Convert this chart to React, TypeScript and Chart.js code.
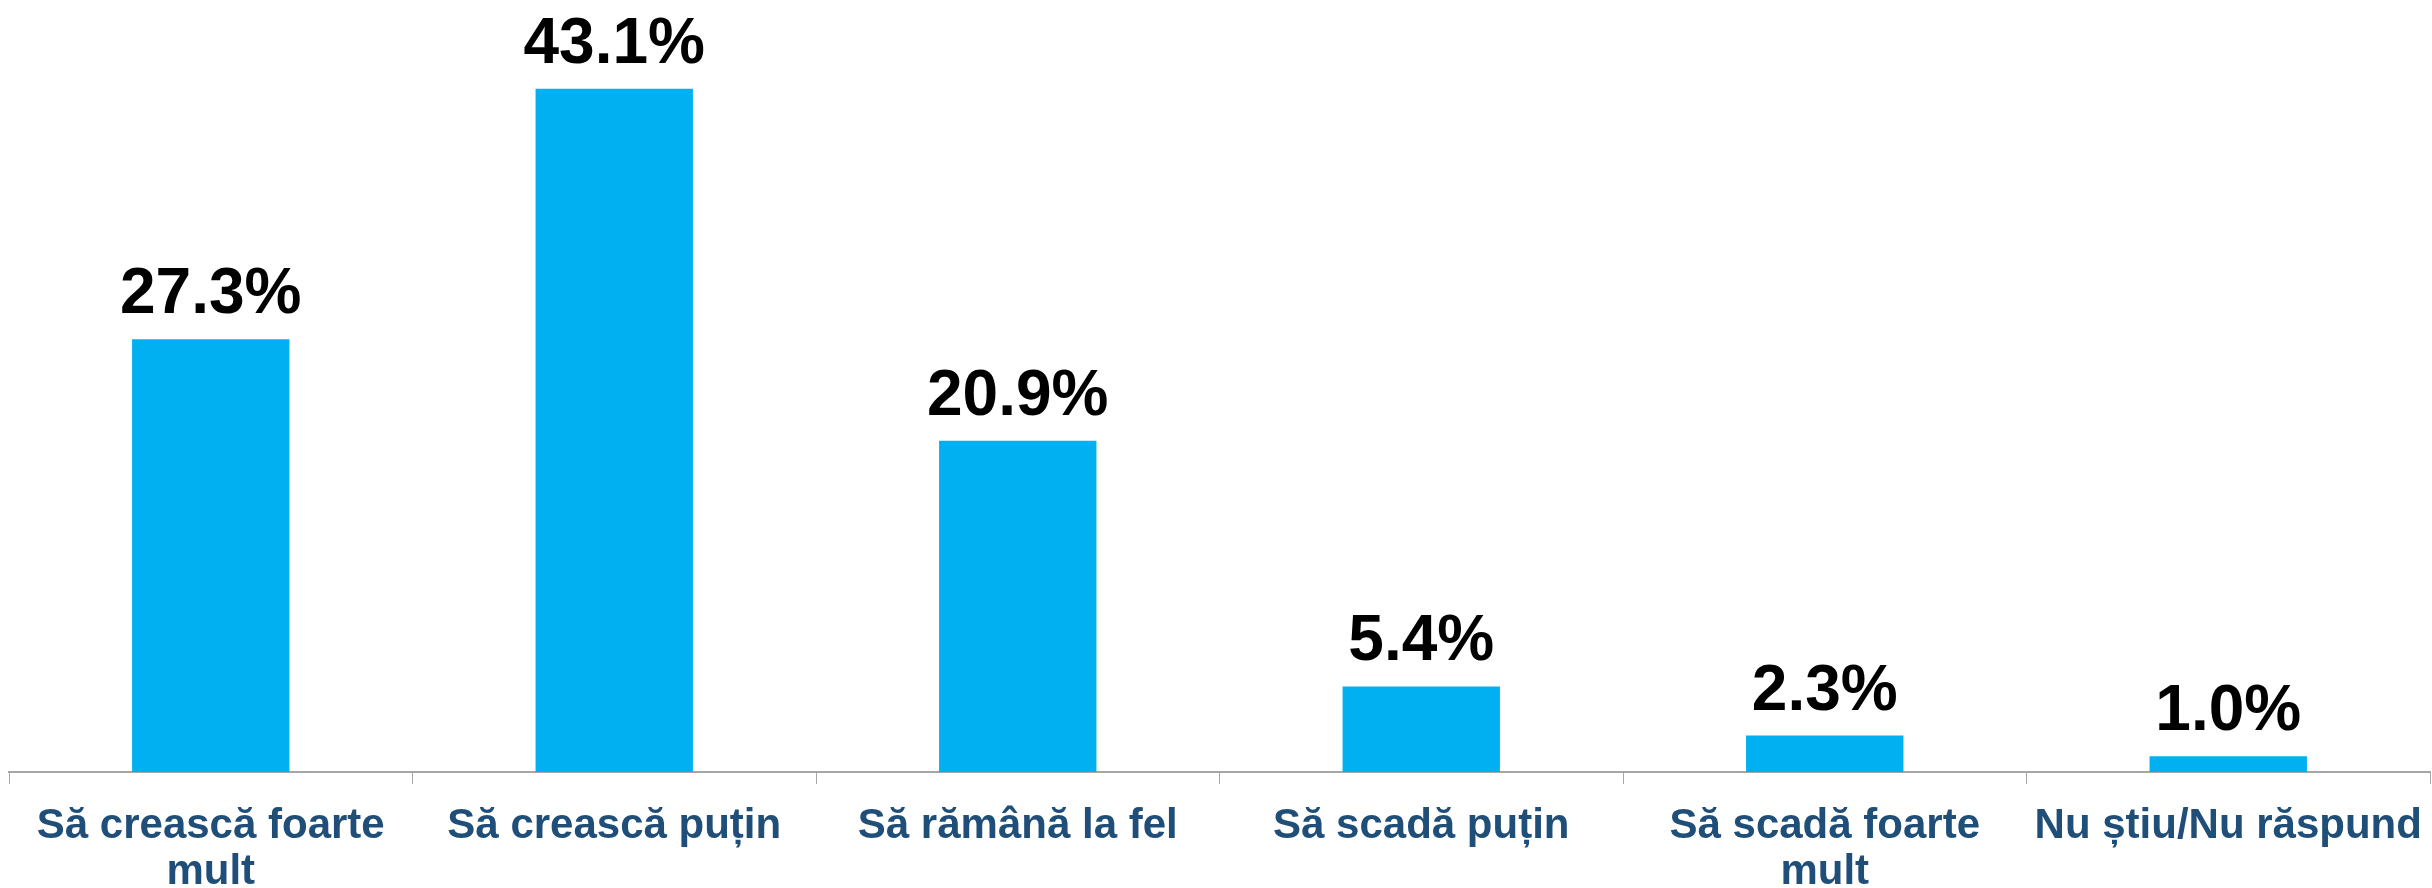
import React, { useEffect, useRef } from "react";
import { Chart, registerables } from "chart.js";

Chart.register(...registerables);

const categories: (string | string[])[] = [
  ["Să crească foarte", "mult"],
  "Să crească puțin",
  "Să rămână la fel",
  "Să scadă puțin",
  ["Să scadă foarte", "mult"],
  "Nu știu/Nu răspund",
];
const values: number[] = [27.3, 43.1, 20.9, 5.4, 2.3, 1.0];
const valueLabels: string[] = ["27.3%", "43.1%", "20.9%", "5.4%", "2.3%", "1.0%"];

const FONT = "'Liberation Sans', Arial, sans-serif";

const valueLabelPlugin = {
  id: "valueLabels",
  afterDatasetsDraw(chart: any) {
    const ctx = chart.ctx;
    const meta = chart.getDatasetMeta(0);
    ctx.save();
    ctx.font = `bold 64px ${FONT}`;
    ctx.fillStyle = "#000000";
    ctx.textAlign = "center";
    ctx.textBaseline = "alphabetic";
    meta.data.forEach((bar: any, i: number) => {
      ctx.fillText(valueLabels[i], bar.x, bar.y - 26);
    });
    ctx.restore();
  },
};

export default function App() {
  const ref = useRef<HTMLCanvasElement>(null);
  useEffect(() => {
    if (!ref.current) return;
    const chart = new Chart(ref.current, {
      type: "bar",
      data: {
        labels: categories,
        datasets: [
          {
            data: values,
            backgroundColor: "#00B0F0",
            borderWidth: 0,
            categoryPercentage: 1,
            barPercentage: 0.39,
          },
        ],
      },
      options: {
        animation: false,
        responsive: false,
        maintainAspectRatio: false,
        layout: { padding: { left: 9, right: 2, top: 0, bottom: 0 } },
        plugins: {
          legend: { display: false },
          tooltip: { enabled: false },
        },
        scales: {
          x: {
            grid: {
              display: true,
              drawOnChartArea: false,
              drawTicks: true,
              tickLength: 12,
              color: "#A6A6A6",
              lineWidth: 1,
              offset: true,
            },
            border: { display: true, color: "#A6A6A6", width: 2 },
            ticks: {
              color: "#1F4E79",
              font: { family: FONT, size: 42, weight: "bold", lineHeight: 1.1 },
              padding: 19,
              maxRotation: 0,
              minRotation: 0,
              autoSkip: false,
            },
            afterFit: (scale: any) => {
              scale.height = 116;
              scale.paddingLeft = 0;
              scale.paddingRight = 0;
            },
          },
          y: {
            display: false,
            min: 0,
            max: 48.7,
          },
        },
      },
      plugins: [valueLabelPlugin],
    });
    return () => chart.destroy();
  }, []);
  return (
    <div style={{ position: "fixed", left: 0, top: 0, width: 2432, height: 888, background: "#ffffff" }}>
      <canvas ref={ref} width={2432} height={888} style={{ width: 2432, height: 888 }} />
    </div>
  );
}
